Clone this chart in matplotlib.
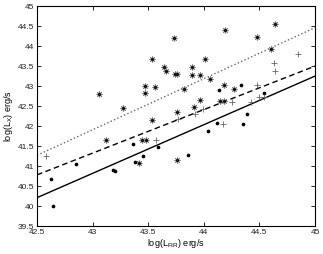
import matplotlib
matplotlib.use("Agg")
import matplotlib.pyplot as plt
import numpy as np

# asterisk sample
star_x = [43.055, 43.27, 43.47, 43.47, 43.53, 43.56, 43.53, 43.64, 43.66, 43.73,
          43.74, 43.76, 43.82, 43.76, 43.89, 43.89, 43.97, 44.01, 44.06, 43.91,
          43.97, 44.15, 44.18, 44.18, 44.19, 44.27, 44.48, 44.60, 44.64, 43.12,
          43.42, 43.44, 43.48, 43.76]
star_y = [42.79, 42.46, 43.01, 42.83, 43.67, 42.98, 42.15, 43.47, 43.38, 44.19,
          43.30, 43.30, 42.93, 42.34, 43.48, 43.27, 43.28, 43.67, 43.17, 42.48,
          42.66, 42.63, 42.63, 43.03, 44.39, 42.93, 44.23, 43.92, 44.56, 41.65,
          41.07, 41.65, 41.65, 41.16]

# dot sample
dot_x = [42.63, 42.64, 42.85, 43.18, 43.20, 43.36, 43.38, 43.45, 43.59, 43.86,
         44.04, 44.14, 44.33, 44.54, 44.39, 44.12, 44.35]
dot_y = [40.67, 40.00, 41.06, 40.91, 40.88, 41.55, 41.09, 41.26, 41.47, 41.28,
         41.88, 42.89, 43.02, 42.82, 42.30, 42.08, 42.06]

# plus sample
plus_x = [42.58, 43.57, 43.77, 43.92, 43.99, 44.17, 44.25, 44.42, 44.48, 44.50,
          44.54, 44.63, 44.64, 44.85]
plus_y = [41.25, 41.65, 42.18, 42.29, 42.43, 42.05, 42.60, 42.60, 43.02, 42.73,
          42.73, 43.57, 43.38, 43.79]

# fitted lines (endpoints at x = 42.5 and 45)
line_x = [42.5, 45.0]
solid_y = [40.21, 43.25]
dashed_y = [40.78, 43.50]
dotted_y = [41.27, 44.46]

xticks = [42.5, 43, 43.5, 44, 44.5, 45]
yticks = [39.5, 40, 40.5, 41, 41.5, 42, 42.5, 43, 43.5, 44, 44.5, 45]

plt.rcParams['font.family'] = ['Liberation Sans', 'DejaVu Sans']
plt.rcParams['mathtext.fontset'] = 'custom'
plt.rcParams['mathtext.rm'] = 'Liberation Sans'

fig = plt.figure(figsize=(3.23, 2.54), dpi=100)
ax = fig.add_axes([0.1146, 0.110, 0.8607, 0.866])

ax.plot(line_x, solid_y, '-', color='black', lw=1.0)
ax.plot(line_x, dashed_y, '--', color='black', lw=1.0, dashes=(4, 2.5))
ax.plot(line_x, dotted_y, ':', color='#666666', lw=1.0)

ax.plot(star_x, star_y, linestyle='none', marker=(8, 2, 0), markersize=4.2,
        markeredgewidth=0.7, color='#808080')
ax.plot(star_x, star_y, linestyle='none', marker='.', markersize=2.5, color='#111111')
ax.plot(dot_x, dot_y, linestyle='none', marker='.', markersize=3.3, color='black')
ax.plot(plus_x, plus_y, linestyle='none', marker='+', markersize=4.5,
        markeredgewidth=0.6, color='#666666')

ax.set_xlim(42.5, 45)
ax.set_ylim(39.5, 45)
ax.set_xticks(xticks)
ax.set_yticks(yticks)
ax.set_xticklabels([f'{t:g}' for t in xticks])
ax.set_yticklabels([f'{t:g}' for t in yticks])
ax.tick_params(direction='in', top=True, right=True, length=3, width=0.6,
               labelsize=6, pad=2, labelcolor='#222222')
for s in ax.spines.values():
    s.set_linewidth(0.8)

ax.set_xlabel(r'log(L$_{\rm FIR}$) erg/s', fontsize=6.5, labelpad=1)
ax.set_ylabel(r'log(L$_{\rm X}$) erg/s', fontsize=6.5, labelpad=2)

fig.savefig('out.png', dpi=100)
